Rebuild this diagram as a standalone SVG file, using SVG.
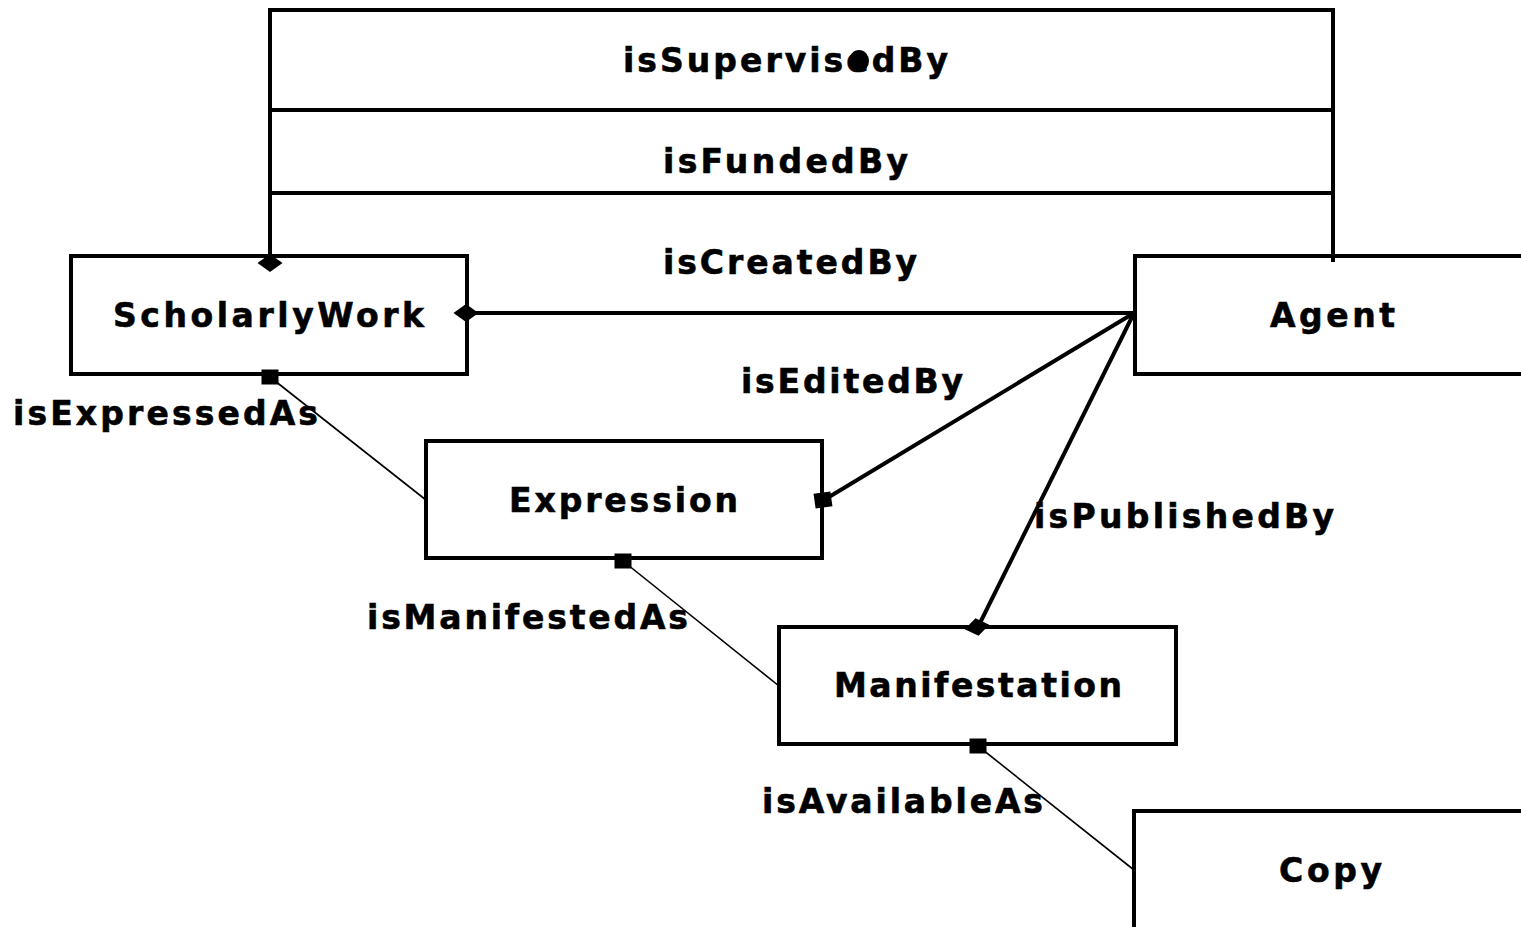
<svg xmlns="http://www.w3.org/2000/svg" width="1521" height="927" viewBox="0 0 1521 927">
<style>
.box{fill:#fff;stroke:#000;stroke-width:4}
.thick{fill:none;stroke:#000;stroke-width:4}
.thin{fill:none;stroke:#000;stroke-width:1.6}
text{font-family:"DejaVu Sans","Verdana","Liberation Sans",sans-serif;font-weight:bold;font-size:33px;fill:#000;stroke:#000;stroke-width:0.6}
</style>
<defs>
<path id="dia" d="M-12.5,0 L0,-9 L12.5,0 L0,9Z" fill="#000"/>
<rect id="sq" x="-8.5" y="-7.5" width="17" height="15" fill="#000"/>
</defs>
<rect width="1521" height="927" fill="#fff"/>
<g id="ScholarlyWork">
<rect class="box" x="71" y="256" width="396" height="118"/>
<text x="113" y="327" textLength="311" lengthAdjust="spacing">ScholarlyWork</text>
</g>
<g id="Agent">
<rect class="box" x="1135" y="256" width="400" height="118"/>
<text x="1270" y="327" textLength="125" lengthAdjust="spacing">Agent</text>
</g>
<g id="Expression">
<rect class="box" x="426" y="441" width="396" height="117"/>
<text x="509" y="512" textLength="229" lengthAdjust="spacing">Expression</text>
</g>
<g id="Manifestation">
<rect class="box" x="779" y="627" width="397" height="117"/>
<text x="834" y="697" textLength="288" lengthAdjust="spacing">Manifestation</text>
</g>
<g id="Copy">
<rect class="box" x="1134" y="811" width="400" height="130"/>
<text x="1279" y="882" textLength="103" lengthAdjust="spacing">Copy</text>
</g>
<g id="connectors">
<path class="thick" d="M270,260 V10 H1333 V262"/>
<path class="thick" d="M270,110 H1333"/>
<path class="thick" d="M270,193 H1333"/>
<line class="thick" x1="467" y1="313" x2="1134" y2="313"/>
<line class="thick" x1="824" y1="500" x2="1134" y2="313"/>
<line class="thick" x1="978" y1="627" x2="1134" y2="313"/>
<line class="thin" x1="270" y1="377" x2="426" y2="500"/>
<line class="thin" x1="623" y1="561" x2="779" y2="686"/>
<line class="thin" x1="978" y1="746" x2="1134" y2="870"/>
<use href="#dia" x="270" y="263"/>
<use href="#dia" x="466" y="313"/>
<use href="#dia" transform="translate(977,627) rotate(-10)"/>
<use href="#sq" x="270" y="377"/>
<use href="#sq" transform="translate(823,500) rotate(-8)"/>
<use href="#sq" x="623" y="561"/>
<use href="#sq" x="978" y="746"/>
<text x="623" y="72" textLength="325" lengthAdjust="spacing">isSupervisedBy</text>
<ellipse cx="859" cy="61" rx="10" ry="11" fill="#000"/>
<text x="663" y="173" textLength="245" lengthAdjust="spacing">isFundedBy</text>
<text x="663" y="274" textLength="254" lengthAdjust="spacing">isCreatedBy</text>
<text x="741" y="393" textLength="222" lengthAdjust="spacing">isEditedBy</text>
<text x="13" y="425" textLength="305" lengthAdjust="spacing">isExpressedAs</text>
<text x="1034" y="528" textLength="300" lengthAdjust="spacing">isPublishedBy</text>
<text x="367" y="629" textLength="321" lengthAdjust="spacing">isManifestedAs</text>
<text x="762" y="813" textLength="281" lengthAdjust="spacing">isAvailableAs</text>
</g>
</svg>
